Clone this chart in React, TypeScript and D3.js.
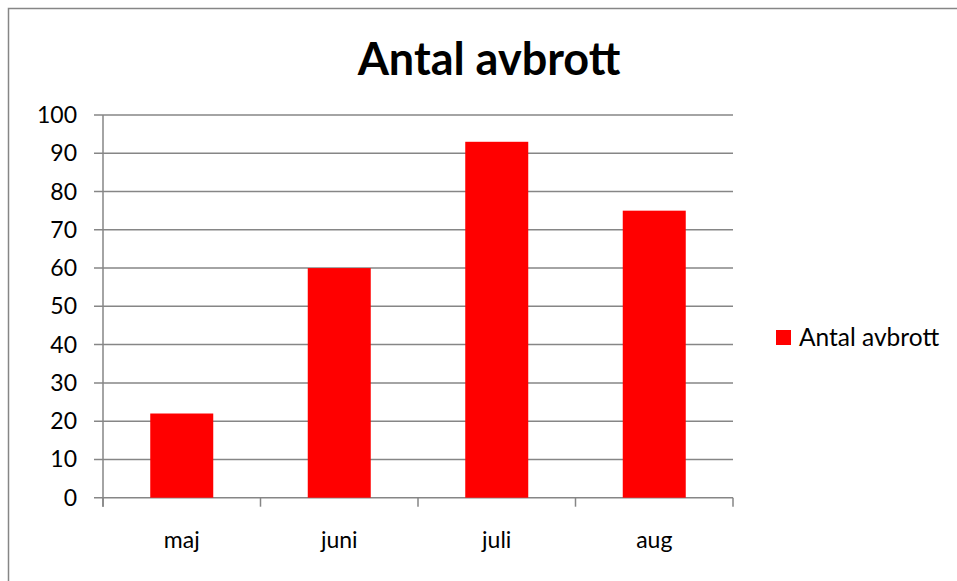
import { useEffect, useRef } from "react";
import * as d3 from "d3";

const months = ["maj", "juni", "juli", "aug"];
const counts = [22, 60, 93, 75];
const yTicks = [0, 10, 20, 30, 40, 50, 60, 70, 80, 90, 100];
const seriesName = "Antal avbrott";

const App = () => {
  const svgRef = useRef<SVGSVGElement | null>(null);

  useEffect(() => {
    if (!svgRef.current) return;
    document.body.style.margin = "0";
    document.body.style.overflow = "hidden";
    const svg = d3.select(svgRef.current);
    svg.selectAll("*").remove();

    const font = "Lato, 'Open Sans', sans-serif";
    const left = 103;
    const right = 733;
    const top = 115;
    const bottom = 497.7;

    // outer chart border (only top/left visible)
    svg
      .append("rect")
      .attr("x", 8.5)
      .attr("y", 8.5)
      .attr("width", 1000)
      .attr("height", 700)
      .attr("fill", "white")
      .attr("stroke", "#868686")
      .attr("stroke-width", 1.5);

    svg
      .append("text")
      .attr("x", 489)
      .attr("y", 75)
      .attr("text-anchor", "middle")
      .attr("font-family", font)
      .attr("font-weight", "bold")
      .attr("font-size", 45)
      .text(seriesName);

    const x = d3
      .scaleBand()
      .domain(months)
      .range([left, right])
      .paddingInner(0.6)
      .paddingOuter(0.3);

    const y = d3.scaleLinear().domain([0, 100]).range([bottom, top]);

    // horizontal gridlines + outward tick marks
    svg
      .append("g")
      .selectAll("line")
      .data(yTicks)
      .enter()
      .append("line")
      .attr("x1", left - 9)
      .attr("x2", right)
      .attr("y1", (d) => y(d))
      .attr("y2", (d) => y(d))
      .attr("stroke", "#868686")
      .attr("stroke-width", 1.5);

    svg
      .append("g")
      .selectAll("text")
      .data(yTicks)
      .enter()
      .append("text")
      .attr("x", left - 26)
      .attr("y", (d) => y(d))
      .attr("dy", "0.35em")
      .attr("text-anchor", "end")
      .attr("font-family", font)
      .attr("font-size", 23)
      .text((d) => d);

    // bars
    svg
      .append("g")
      .selectAll("rect")
      .data(counts)
      .enter()
      .append("rect")
      .attr("x", (_, i) => x(months[i]) || 0)
      .attr("y", (d) => y(d))
      .attr("width", x.bandwidth())
      .attr("height", (d) => y(0) - y(d))
      .attr("fill", "#ff0000");

    // y axis line
    svg
      .append("line")
      .attr("x1", left)
      .attr("x2", left)
      .attr("y1", top)
      .attr("y2", bottom + 9)
      .attr("stroke", "#868686")
      .attr("stroke-width", 1.5);

    // category boundary ticks
    const step = x.step();
    const bounds = d3.range(months.length + 1).map((i) => left + i * step);
    svg
      .append("g")
      .selectAll("line")
      .data(bounds)
      .enter()
      .append("line")
      .attr("x1", (d) => d)
      .attr("x2", (d) => d)
      .attr("y1", bottom)
      .attr("y2", bottom + 9)
      .attr("stroke", "#868686")
      .attr("stroke-width", 1.5);

    svg
      .append("g")
      .selectAll("text")
      .data(months)
      .enter()
      .append("text")
      .attr("x", (d) => (x(d) || 0) + x.bandwidth() / 2)
      .attr("y", 540)
      .attr("dy", "0.35em")
      .attr("text-anchor", "middle")
      .attr("font-family", font)
      .attr("font-size", 23)
      .text((d) => d);

    // legend
    svg
      .append("rect")
      .attr("x", 776)
      .attr("y", 330)
      .attr("width", 15)
      .attr("height", 15)
      .attr("fill", "#ff0000");
    svg
      .append("text")
      .attr("x", 799)
      .attr("y", 337.5)
      .attr("dy", "0.35em")
      .attr("font-family", font)
      .attr("font-size", 24.5)
      .text(seriesName);
  }, []);

  return <svg ref={svgRef} width={957} height={581} style={{ display: "block" }}></svg>;
};

export default App;
